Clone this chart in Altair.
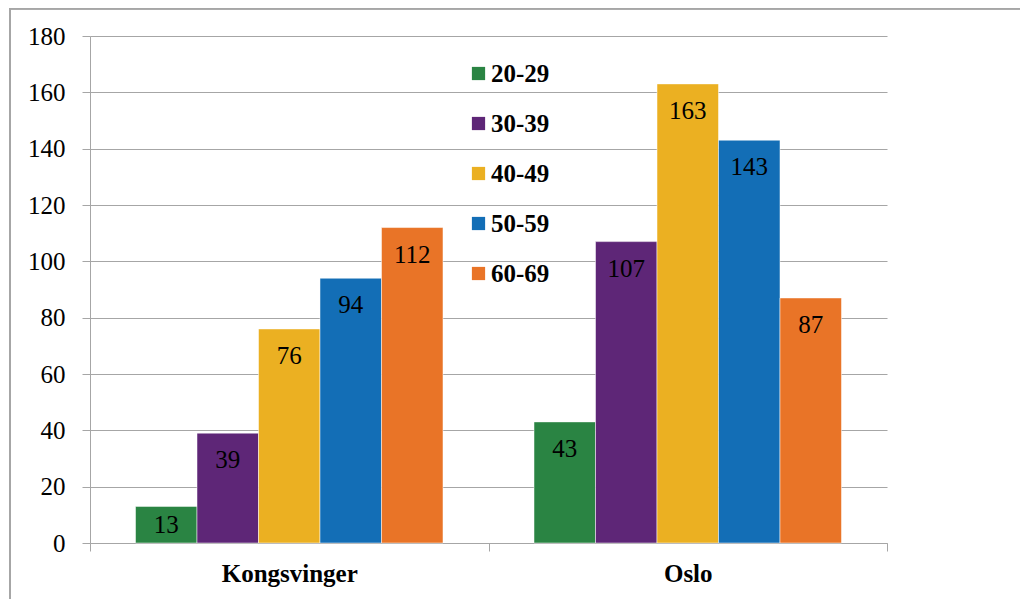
import altair as alt
import pandas as pd

places = ["Kongsvinger", "Oslo"]
ages = ["20-29", "30-39", "40-49", "50-59", "60-69"]
kongsvinger = [13, 39, 76, 94, 112]
oslo = [43, 107, 163, 143, 87]
colors = ["#2A8443", "#5E2677", "#EBB022", "#136EB6", "#E97427"]

rows = []
for place, vals in zip(places, [kongsvinger, oslo]):
    for a, v in zip(ages, vals):
        rows.append({"sted": place, "alder": a, "antall": v})
df = pd.DataFrame(rows)
df["lab_y"] = [v - 9.6 if v > 25 else v / 2 for v in df["antall"]]

FONT = "'Liberation Serif', 'DejaVu Serif', serif"

base = alt.Chart(df).encode(
    x=alt.X("sted:N", sort=places, title=None,
            scale=alt.Scale(paddingInner=0, paddingOuter=0),
            axis=alt.Axis(labelFont=FONT, labelFontSize=25, labelFontWeight="bold",
                          labelColor="black", labelPadding=10, labelAngle=0,
                          tickBand="extent", tickSize=8, tickColor="#A6A6A6",
                          domainColor="#A6A6A6", grid=False)),
    xOffset=alt.XOffset("alder:N", sort=ages,
                        scale=alt.Scale(paddingInner=0, paddingOuter=0.74)),
)

bars = base.mark_bar(stroke="white", strokeWidth=0.5).encode(
    y=alt.Y("antall:Q", title=None,
            scale=alt.Scale(domain=[0, 180], nice=False),
            axis=alt.Axis(values=list(range(0, 181, 20)), labelFont=FONT,
                          labelFontSize=25, labelColor="black", labelPadding=17,
                          tickSize=8, tickColor="#A6A6A6", domainColor="#A6A6A6",
                          gridColor="#A6A6A6", gridWidth=1.2)),
    color=alt.Color("alder:N", sort=ages, title=None,
                    scale=alt.Scale(domain=ages, range=colors),
                    legend=alt.Legend(orient="none", legendX=376, legendY=25,
                                      symbolType="square", symbolSize=175,
                                      symbolStrokeWidth=0, labelFont=FONT,
                                      labelFontSize=25, labelFontWeight="bold",
                                      labelColor="black", rowPadding=24,
                                      labelOffset=0)),
)

labels = base.mark_text(font=FONT, fontSize=25, color="black", baseline="middle").encode(
    y=alt.Y("lab_y:Q"),
    text=alt.Text("antall:Q"),
)

frame_left = alt.Chart(df).mark_rule(color="#A6A6A6", strokeWidth=1.5).encode(
    x=alt.value(-80), y=alt.value(-27.5), y2=alt.value(570))
frame_top = alt.Chart(df).mark_rule(color="#A6A6A6", strokeWidth=1.5).encode(
    x=alt.value(-80), x2=alt.value(940), y=alt.value(-27.5))

chart = alt.layer(frame_left, frame_top, bars, labels).properties(
    width=797, height=507,
    padding={"left": 82, "top": 28, "right": 133, "bottom": 56},
    autosize=alt.AutoSizeParams(type="none"),
).configure_view(stroke=None)

chart.save("out.html", embed_options={"renderer": "svg", "actions": False})
